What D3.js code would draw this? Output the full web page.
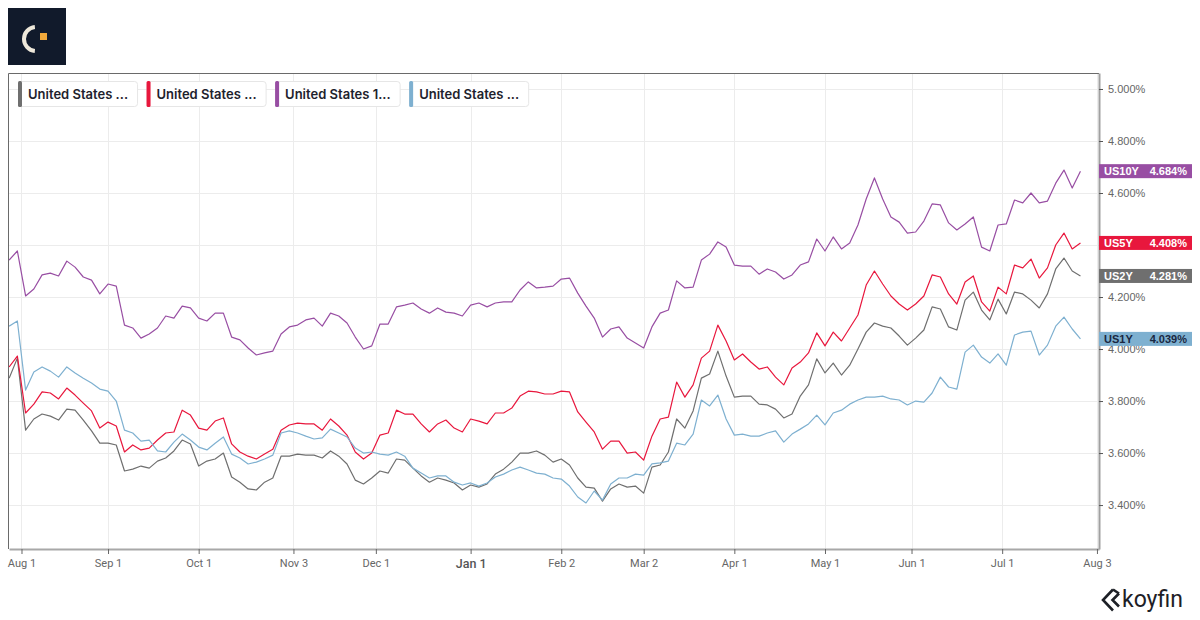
<!DOCTYPE html>
<html lang="en">
<head>
<meta charset="UTF-8">
<title>US Treasury yields</title>
<script src="https://cdn.jsdelivr.net/npm/d3@7/dist/d3.min.js"></script>
<style>
  body { margin: 0; background: #fff; }
  svg { display: block; }
</style>
</head>
<body>
<script>
    // one value every 2 weekdays, first one 3 weekdays before Aug 1
    const startDay = -3, stepDays = 2;

    const us2y = [
        3.888, 3.965, 3.688, 3.731, 3.750, 3.742, 3.727, 3.769, 3.765, 3.727,
        3.685, 3.638, 3.638, 3.631, 3.531, 3.538, 3.550, 3.542, 3.569, 3.581,
        3.608, 3.650, 3.635, 3.550, 3.569, 3.577, 3.600, 3.508, 3.488, 3.462,
        3.458, 3.488, 3.504, 3.588, 3.588, 3.596, 3.592, 3.592, 3.581, 3.608,
        3.588, 3.558, 3.496, 3.481, 3.504, 3.531, 3.523, 3.577, 3.573, 3.542,
        3.512, 3.488, 3.504, 3.496, 3.485, 3.458, 3.477, 3.469, 3.481, 3.519,
        3.538, 3.565, 3.600, 3.600, 3.608, 3.592, 3.565, 3.577, 3.554, 3.504,
        3.469, 3.465, 3.415, 3.462, 3.481, 3.469, 3.473, 3.446, 3.546, 3.554,
        3.604, 3.731, 3.696, 3.762, 3.888, 3.904, 3.992, 3.896, 3.815, 3.819,
        3.819, 3.788, 3.785, 3.769, 3.735, 3.750, 3.819, 3.862, 3.962, 3.908,
        3.946, 3.900, 3.938, 4.000, 4.065, 4.100, 4.088, 4.081, 4.050, 4.015,
        4.042, 4.073, 4.162, 4.154, 4.085, 4.073, 4.188, 4.219, 4.150, 4.112,
        4.192, 4.135, 4.219, 4.212, 4.188, 4.158, 4.212, 4.308, 4.350, 4.300,
        4.281
    ];
    const us5y = [
        3.931, 3.973, 3.754, 3.788, 3.835, 3.831, 3.808, 3.850, 3.823, 3.792,
        3.762, 3.696, 3.719, 3.704, 3.604, 3.631, 3.612, 3.619, 3.650, 3.677,
        3.681, 3.765, 3.746, 3.696, 3.688, 3.723, 3.735, 3.635, 3.604, 3.588,
        3.577, 3.596, 3.615, 3.688, 3.708, 3.715, 3.712, 3.712, 3.688, 3.731,
        3.704, 3.669, 3.604, 3.577, 3.600, 3.669, 3.677, 3.765, 3.750, 3.750,
        3.712, 3.681, 3.712, 3.727, 3.696, 3.681, 3.731, 3.723, 3.712, 3.754,
        3.754, 3.773, 3.819, 3.838, 3.835, 3.827, 3.827, 3.838, 3.835, 3.758,
        3.719, 3.681, 3.615, 3.646, 3.646, 3.600, 3.604, 3.573, 3.665, 3.731,
        3.738, 3.873, 3.815, 3.862, 3.965, 3.992, 4.092, 4.031, 3.958, 3.981,
        3.950, 3.923, 3.931, 3.892, 3.862, 3.927, 3.950, 3.985, 4.062, 4.012,
        4.065, 4.031, 4.081, 4.131, 4.246, 4.300, 4.250, 4.204, 4.173, 4.150,
        4.173, 4.204, 4.285, 4.277, 4.212, 4.173, 4.258, 4.281, 4.181, 4.146,
        4.238, 4.212, 4.323, 4.312, 4.346, 4.273, 4.312, 4.400, 4.446, 4.385,
        4.408
    ];
    const us10y = [
        4.342, 4.377, 4.204, 4.231, 4.285, 4.292, 4.281, 4.338, 4.315, 4.277,
        4.265, 4.212, 4.250, 4.242, 4.092, 4.081, 4.042, 4.058, 4.081, 4.127,
        4.119, 4.165, 4.158, 4.119, 4.108, 4.138, 4.138, 4.046, 4.035, 4.004,
        3.977, 3.985, 3.992, 4.058, 4.085, 4.092, 4.112, 4.119, 4.088, 4.138,
        4.127, 4.100, 4.046, 4.000, 4.012, 4.096, 4.096, 4.162, 4.169, 4.177,
        4.154, 4.138, 4.158, 4.142, 4.138, 4.127, 4.169, 4.177, 4.162, 4.177,
        4.181, 4.181, 4.227, 4.258, 4.235, 4.238, 4.242, 4.269, 4.273, 4.215,
        4.165, 4.119, 4.046, 4.077, 4.085, 4.042, 4.023, 4.004, 4.085, 4.138,
        4.150, 4.262, 4.235, 4.238, 4.342, 4.365, 4.412, 4.392, 4.323, 4.319,
        4.319, 4.288, 4.308, 4.296, 4.269, 4.285, 4.323, 4.335, 4.423, 4.377,
        4.431, 4.385, 4.408, 4.477, 4.577, 4.658, 4.577, 4.508, 4.488, 4.446,
        4.450, 4.492, 4.558, 4.554, 4.485, 4.458, 4.481, 4.508, 4.392, 4.377,
        4.477, 4.481, 4.573, 4.562, 4.600, 4.562, 4.569, 4.638, 4.688, 4.619,
        4.684
    ];
    const us1y = [
        4.088, 4.108, 3.842, 3.912, 3.931, 3.915, 3.892, 3.931, 3.908, 3.888,
        3.869, 3.846, 3.838, 3.800, 3.688, 3.677, 3.646, 3.650, 3.608, 3.604,
        3.642, 3.673, 3.650, 3.623, 3.612, 3.638, 3.662, 3.596, 3.581, 3.558,
        3.565, 3.577, 3.592, 3.677, 3.685, 3.677, 3.665, 3.654, 3.658, 3.692,
        3.677, 3.662, 3.619, 3.600, 3.604, 3.596, 3.592, 3.604, 3.588, 3.542,
        3.523, 3.504, 3.512, 3.512, 3.488, 3.477, 3.485, 3.473, 3.485, 3.508,
        3.519, 3.535, 3.546, 3.535, 3.523, 3.519, 3.504, 3.500, 3.473, 3.431,
        3.408, 3.454, 3.419, 3.481, 3.504, 3.504, 3.519, 3.515, 3.558, 3.562,
        3.569, 3.638, 3.631, 3.673, 3.804, 3.781, 3.823, 3.731, 3.669, 3.673,
        3.665, 3.665, 3.677, 3.685, 3.642, 3.673, 3.692, 3.712, 3.746, 3.708,
        3.754, 3.765, 3.788, 3.804, 3.815, 3.815, 3.819, 3.808, 3.804, 3.785,
        3.800, 3.796, 3.831, 3.892, 3.854, 3.846, 3.988, 4.015, 3.969, 3.946,
        3.981, 3.938, 4.054, 4.065, 4.069, 3.977, 4.015, 4.088, 4.123, 4.077,
        4.039
    ];

    const seriesNames = ['United States ...', 'United States ...', 'United States 1...', 'United States ...'];
    const seriesCodes = ['US2Y', 'US5Y', 'US10Y', 'US1Y'];
    const seriesColors = ['#6f6f6f', '#e8173d', '#984ea3', '#7eb0d0'];
    const seriesValues = [us2y, us5y, us10y, us1y];

    // weekdays since Aug 1 for each month label
    const xTickLabels = ['Aug 1', 'Sep 1', 'Oct 1', 'Nov 3', 'Dec 1', 'Jan 1', 'Feb 2', 'Mar 2', 'Apr 1', 'May 1', 'Jun 1', 'Jul 1', 'Aug 3'];
    const xTickDays = [0, 21, 43, 66, 86, 109, 131, 151, 173, 195, 216, 238, 261];
    const yTicks = [3.4, 3.6, 3.8, 4.0, 4.2, 4.4, 4.6, 4.8, 5.0];

    let width = 1200,
        height = 620,
        plot = { left: 8, top: 73, right: 1099, bottom: 549 };

    let svg = d3.select('body').append('svg').attr('width', width).attr('height', height);

    let x = d3.scaleLinear().domain([-3.03, 261.5]).range([plot.left + 1, plot.right]);
    let y = d3.scaleLinear().domain([3.231, 5.0615]).range([plot.bottom, plot.top]);

    // logo top left
    let logo = svg.append('g');
    logo.append('rect').attr('x', 8).attr('y', 8).attr('width', 58).attr('height', 57).attr('fill', '#111a2b');
    logo.append('path')
        .attr('transform', 'translate(36,39)')
        .attr('d', d3.arc()({ innerRadius: 10, outerRadius: 14, startAngle: Math.PI * 1.03, endAngle: Math.PI * 1.97 }))
        .attr('fill', '#eee8da');
    logo.append('rect').attr('x', 40).attr('y', 33).attr('width', 7).attr('height', 7).attr('fill', '#f2a93b');

    // grid
    let grid = svg.append('g');
    grid.selectAll('.hg').data(yTicks).enter().append('line')
        .attr('x1', plot.left).attr('x2', plot.right)
        .attr('y1', d => Math.round(y(d)) + 0.5).attr('y2', d => Math.round(y(d)) + 0.5)
        .attr('stroke', '#ececec');
    grid.selectAll('.vg').data(xTickDays).enter().append('line')
        .attr('y1', plot.top).attr('y2', plot.bottom)
        .attr('x1', d => Math.round(x(d)) + 0.5).attr('x2', d => Math.round(x(d)) + 0.5)
        .attr('stroke', '#ececec');

    // frame left and top
    svg.append('path')
        .attr('d', `M${plot.left + 0.5},${plot.bottom}V${plot.top + 0.5}H${plot.right}`)
        .attr('fill', 'none').attr('stroke', '#6a6a6a');

    // lines
    svg.append('clipPath').attr('id', 'clip').append('rect')
        .attr('x', plot.left + 1).attr('y', plot.top + 1)
        .attr('width', plot.right - plot.left - 1).attr('height', plot.bottom - plot.top - 1);

    let line = d3.line()
        .x((d, i) => x(startDay + i * stepDays))
        .y(d => y(d));

    svg.append('g').attr('clip-path', 'url(#clip)')
        .selectAll('path').data(seriesValues).enter().append('path')
        .attr('d', d => line(d))
        .attr('fill', 'none')
        .attr('stroke', (d, i) => seriesColors[i])
        .attr('stroke-width', 1.2)
        .attr('stroke-linejoin', 'round');

    // right axis (4.400% sits under the US5Y tag, so no text there)
    let yAxis = svg.append('g')
        .attr('transform', `translate(${plot.right},0)`)
        .call(d3.axisRight(y).tickValues(yTicks)
            .tickFormat(d => d === 4.4 ? '' : d.toFixed(3) + '%')
            .tickSize(4).tickSizeOuter(0).tickPadding(5));
    yAxis.select('.domain').attr('stroke', '#a0a0a0').attr('stroke-width', 2);
    yAxis.selectAll('.tick line').attr('stroke', '#555');
    yAxis.selectAll('.tick text')
        .attr('fill', '#666')
        .style('font-family', '"Liberation Sans", Arial, sans-serif')
        .style('font-size', '11px');

    // bottom axis
    let xAxis = svg.append('g')
        .attr('transform', `translate(0,${plot.bottom})`)
        .call(d3.axisBottom(x).tickValues(xTickDays).tickFormat((d, i) => xTickLabels[i]).tickSize(5).tickSizeOuter(0).tickPadding(5));
    xAxis.select('.domain').attr('stroke', '#a8a8a8').attr('stroke-width', 2);
    xAxis.selectAll('.tick line').attr('stroke', '#666');
    xAxis.selectAll('.tick text')
        .attr('fill', '#666')
        .style('font-family', 'Roboto, sans-serif')
        .style('font-size', '11px');
    xAxis.selectAll('.tick text').filter(d => d === 109)
        .attr('fill', '#555')
        .style('font-size', '12.5px')
        .style('font-weight', '500');

    // last value labels
    let tags = svg.append('g').selectAll('g').data(seriesValues).enter().append('g')
        .attr('transform', d => `translate(${plot.right},${y(d[d.length - 1])})`);
    tags.append('rect')
        .attr('x', 0).attr('y', -7).attr('width', 93).attr('height', 14)
        .attr('fill', (d, i) => seriesColors[i]);
    tags.append('text')
        .attr('x', 5).attr('y', 4)
        .attr('fill', (d, i) => i === 3 ? '#1a2740' : '#fff')
        .style('font-family', '"Liberation Sans", Arial, sans-serif')
        .style('font-size', '11px').style('font-weight', 'bold')
        .text((d, i) => seriesCodes[i]);
    tags.append('text')
        .attr('x', 88).attr('y', 4)
        .attr('text-anchor', 'end')
        .attr('fill', (d, i) => i === 3 ? '#1a2740' : '#fff')
        .style('font-family', '"Liberation Sans", Arial, sans-serif')
        .style('font-size', '11px').style('font-weight', 'bold')
        .text(d => d[d.length - 1].toFixed(3) + '%');

    // legend
    let lx = 18;
    seriesNames.forEach((name, i) => {
        let g = svg.append('g');
        let box = g.append('rect').attr('y', 81.5).attr('height', 25).attr('rx', 3)
            .attr('fill', '#fff').attr('stroke', '#e6e6e6');
        let t = g.append('text')
            .attr('x', lx + 10).attr('y', 98.5)
            .attr('fill', '#1e222d')
            .style('font-family', 'Inter, Roboto, sans-serif')
            .style('font-size', '13px').style('font-weight', '600')
            .text(name);
        let w = t.node().getComputedTextLength() + 19;
        box.attr('x', lx + 0.5).attr('width', w);
        g.append('rect').attr('x', lx).attr('y', 81).attr('width', 4).attr('height', 26).attr('rx', 1.5)
            .attr('fill', seriesColors[i]);
        lx += w + 9.5;
    });

    // koyfin mark
    let brand = svg.append('g').attr('fill', 'none').attr('stroke', '#1d2026').attr('stroke-width', 2.6).attr('stroke-linejoin', 'miter');
    brand.append('path').attr('d', 'M1113,589.5 L1103,600 L1113,610.5');
    brand.append('path').attr('d', 'M1119,593.5 L1112.5,600 L1119,606.5 M1113,589.5 L1119,593.5');
    svg.append('text')
        .attr('x', 1122).attr('y', 607)
        .attr('fill', '#1d2026')
        .style('font-family', 'Roboto, sans-serif')
        .style('font-size', '23px')
        .text('koyfin');
</script>
</body>
</html>
